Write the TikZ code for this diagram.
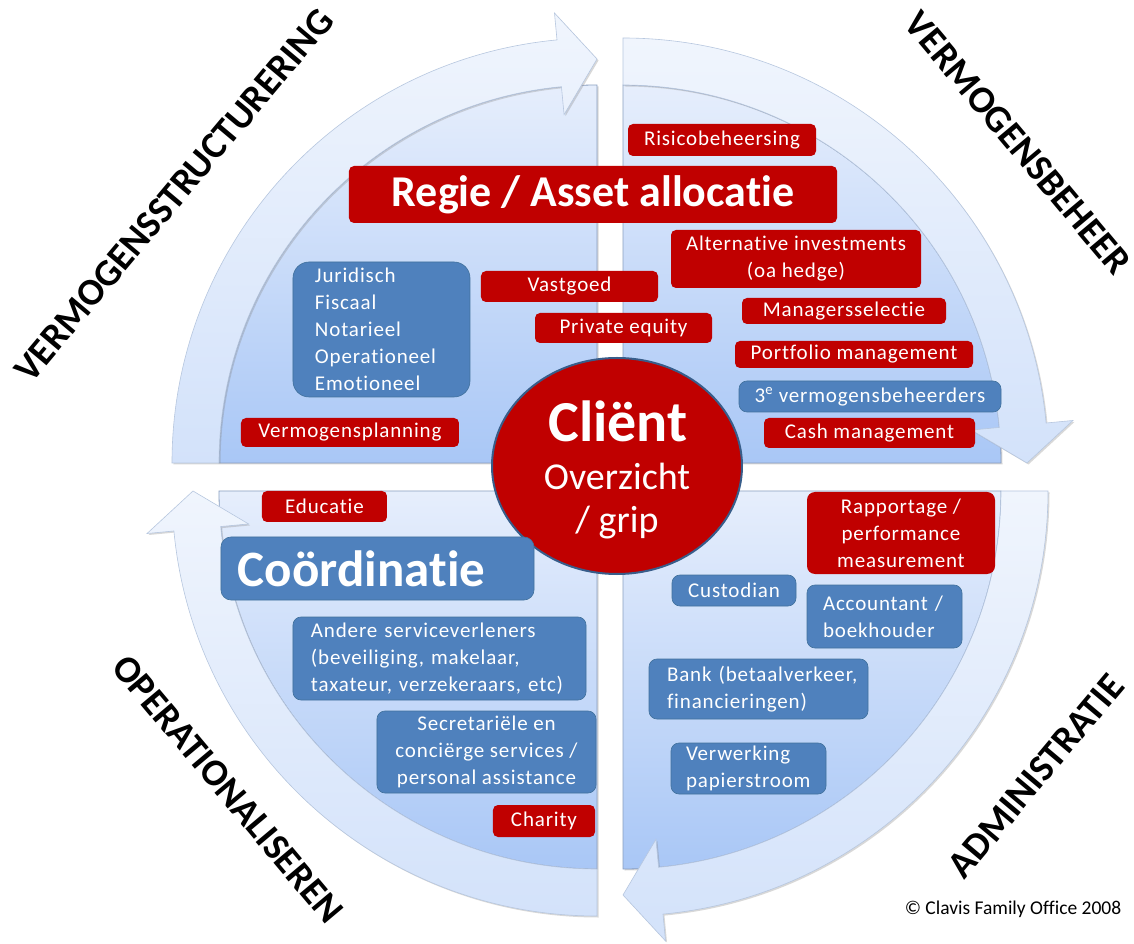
\documentclass[tikz,border=0pt]{standalone}
\usepackage{fontspec}
\setmainfont{Carlito}[Ligatures=NoCommon]
\newfontfamily\boxfamily[LetterSpace=4,Ligatures=NoCommon]{Carlito}
\usetikzlibrary{shapes.geometric,shadows}
\definecolor{disctop}{HTML}{E6EEFC}
\definecolor{discbottom}{HTML}{A9C7F6}
\definecolor{discedge}{HTML}{8A9FC0}
\definecolor{bandtop}{HTML}{F0F5FD}
\definecolor{bandbottom}{HTML}{D3E2FA}
\definecolor{bandedge}{HTML}{B7C7DF}
\definecolor{boxred}{HTML}{C00000}
\definecolor{boxblue}{HTML}{4F81BD}
\definecolor{boxedge}{HTML}{41719C}
\definecolor{clientedge}{HTML}{385D8A}

\begin{document}
\begin{tikzpicture}[x=1pt,y=1pt,
	disc/.style={top color=disctop,bottom color=discbottom,draw=discedge,line width=0.8pt,drop shadow={opacity=0.3,shadow xshift=1.5pt,shadow yshift=-1.5pt}},
	band/.style={top color=bandtop,bottom color=bandbottom,draw=bandedge,line width=0.6pt,drop shadow={opacity=0.3,shadow xshift=1.5pt,shadow yshift=-1.5pt}},
	client/.style={ellipse,fill=boxred,draw=clientedge,line width=2pt,minimum width=250pt,minimum height=216pt},
	redbox/.style={rectangle,rounded corners=5pt,fill=boxred,text=white,inner sep=0pt,align=center,font={\boxfamily\fontsize{21}{27}\selectfont}},
	bluebox/.style={redbox,fill=boxblue,draw=boxedge,line width=0.6pt,rounded corners=8pt},
	leftpad/.style={align=left,inner xsep=#1},
	title/.style={font={\bfseries\fontsize{38}{40}\selectfont},inner sep=0pt}]
\path[use as bounding box,fill=white] (-610,-467) rectangle (524,477);
\foreach \cx/\cy/\a in {-13/14/180,13/14/90,13/-14/0,-13/-14/-90}{
\begin{scope}[shift={(\cx,\cy)}]
\path[disc] (0,0) -- (\a:378) arc[start angle=\a,end angle=\a-90,radius=378] -- cycle;
\path[band] (\a:378) -- (\a:425) arc[start angle=\a,end angle=\a-84.6,radius=425] -- ({\a-84.6}:452) -- ({\a-90}:404) -- ({\a-84.6}:350) -- ({\a-84.6}:378) arc[start angle=\a-84.6,end angle=\a,radius=378] -- cycle;
\end{scope}}
\node[title,rotate=50] (structurering) at (-436,282) {VERMOGENSSTRUCTURERING};
\node[title,rotate=-50] (beheer) at (408,334) {VERMOGENSBEHEER};
\node[title,rotate=-50] (operationaliseren) at (-382,-312) {OPERATIONALISEREN};
\node[title,rotate=50] (administratie) at (426,-299) {ADMINISTRATIE};
\node[client] (client) at (7,11) {};
\node[anchor=base,text=white,font={\bfseries\fontsize{58}{60}\selectfont}] (clientname) at (8,35) {Cliënt};
\node[anchor=base,text=white,font={\fontsize{38}{40}\selectfont}] (overzicht) at (7,-13) {Overzicht};
\node[anchor=base,text=white,font={\fontsize{38}{40}\selectfont}] (grip) at (7,-56) {/ grip};
\node[redbox,minimum width=188pt,minimum height=32pt] (risico) at (112,337) {Risicobeheersing};
\node[redbox,minimum width=488pt,minimum height=57pt,font={\bfseries\fontsize{44}{46}\selectfont}] (regie) at (-17,282.5) {Regie / Asset allocatie};
\node[redbox,minimum width=250pt,minimum height=58pt] (alternative) at (186,218) {Alternative investments\\(oa hedge)};
\node[redbox,minimum width=177pt,minimum height=31pt] (vastgoed) at (-40.5,190.5) {Vastgoed};
\node[redbox,minimum width=177pt,minimum height=30pt] (equity) at (13.5,149) {Private equity};
\node[redbox,minimum width=204pt,minimum height=26pt] (selectie) at (234,166) {Managersselectie};
\node[redbox,minimum width=238pt,minimum height=27pt] (portfolio) at (244,122.5) {Portfolio management};
\node[bluebox,minimum width=262pt,minimum height=31pt] (derden) at (260,80.5) {3\textsuperscript{e} vermogensbeheerders};
\node[redbox,minimum width=211pt,minimum height=30pt] (cash) at (259.5,44) {Cash management};
\node[bluebox,leftpad=22pt,text width=133pt,minimum height=135pt,rounded corners=16pt] (juridisch) at (-228.5,147.5) {Juridisch\\Fiscaal\\Notarieel\\Operationeel\\Emotioneel};
\node[redbox,minimum width=218pt,minimum height=29pt] (planning) at (-260,44.5) {Vermogensplanning};
\node[redbox,minimum width=125pt,minimum height=31pt] (educatie) at (-285.5,-29.5) {Educatie};
\node[bluebox,leftpad=17pt,text width=279pt,minimum height=63pt,rounded corners=10pt,font={\bfseries\fontsize{51}{53}\selectfont}] (coordinatie) at (-232.5,-91.5) {Coördinatie};
\node[bluebox,leftpad=18pt,text width=257pt,minimum height=83pt] (andere) at (-170.5,-181.5) {Andere serviceverleners\\(beveiliging, makelaar,\\taxateur, verzekeraars, etc)};
\node[bluebox,minimum width=219pt,minimum height=82pt] (secretariaat) at (-123.5,-275) {Secretariële en\\conciërge services /\\personal assistance};
\node[redbox,minimum width=102pt,minimum height=32pt] (charity) at (-66,-344) {Charity};
\node[redbox,minimum width=188pt,minimum height=82pt,rounded corners=8pt] (rapportage) at (291,-56) {Rapportage /\\performance\\measurement};
\node[bluebox,minimum width=124pt,minimum height=31pt] (custodian) at (124,-113.5) {Custodian};
\node[bluebox,leftpad=16pt,text width=123pt,minimum height=63pt] (accountant) at (274.5,-139.5) {Accountant /\\boekhouder};
\node[bluebox,leftpad=18pt,text width=183pt,minimum height=60pt] (bank) at (148.5,-212) {\mbox{Bank (betaalverkeer,}\\financieringen)};
\node[bluebox,leftpad=15pt,text width=125pt,minimum height=51pt] (verwerking) at (138.5,-291.5) {Verwerking\\papierstroom};
\node[inner sep=0pt,font={\fontsize{19.5}{21}\selectfont}] (copyright) at (403,-432) {\textcopyright{} Clavis Family Office 2008};
\end{tikzpicture}
\end{document}
